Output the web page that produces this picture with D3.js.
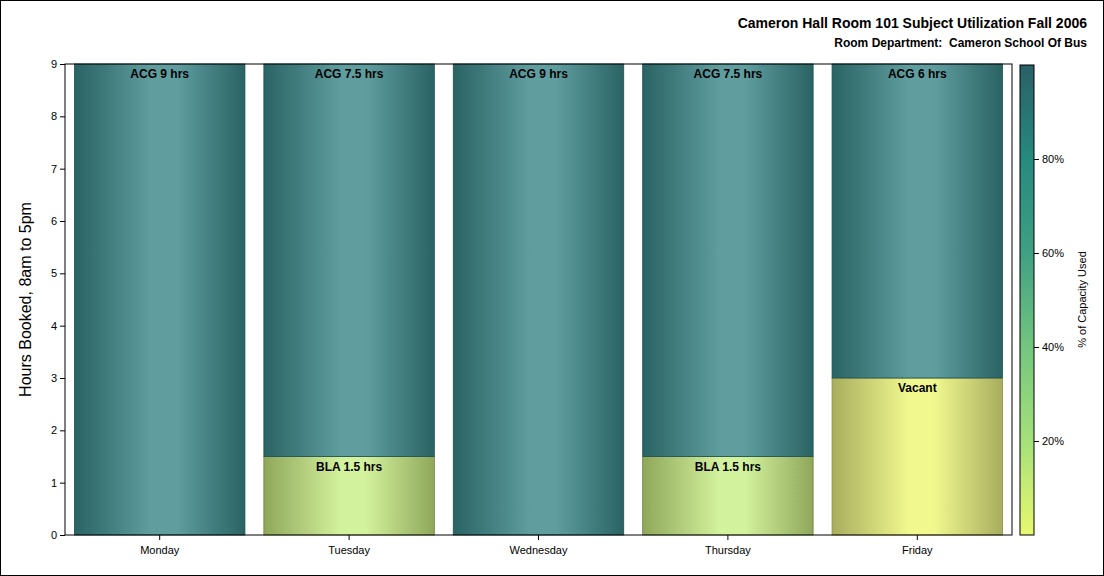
<!DOCTYPE html><html><head><meta charset="utf-8"><script src="https://cdn.jsdelivr.net/npm/d3@7"></script>
<style>body{margin:0;background:#fff}text{font-family:Arial,"Liberation Sans",sans-serif}</style></head><body>
<svg id="c" width="1104" height="576"></svg>
<script>
const days=["Monday","Tuesday","Wednesday","Thursday","Friday"];
const acgHours=[9,7.5,9,7.5,6];
const blaHours=[0,1.5,0,1.5,0];
const vacantHours=[0,0,0,0,3];
const yTicks=[0,1,2,3,4,5,6,7,8,9];
const cbTicks=[20,40,60,80];
const svg=d3.select("#c");
svg.append("rect").attr("x",0.5).attr("y",0.5).attr("width",1103).attr("height",575).attr("fill","#fff").attr("stroke","#000");
const L=65,R=1012,T=64,B=535;
const x=d3.scaleBand().domain(days).range([L,R]).paddingInner(0.1).paddingOuter(0.05);
const y=d3.scaleLinear().domain([0,9]).range([B,T]);
const defs=svg.append("defs");
function grad(id,edge,mid){const g=defs.append("linearGradient").attr("id",id);
 [[0,edge],[0.45,mid],[0.6,mid],[1,edge]].forEach(s=>g.append("stop").attr("offset",s[0]).attr("stop-color",s[1]));}
grad("gA","#2a6363","#5f9d9f");grad("gB","#8fa75a","#d3f29d");grad("gV","#a8ad5e","#f0f88e");
const cbg=defs.append("linearGradient").attr("id","cb").attr("x1",0).attr("y1",1).attr("x2",0).attr("y2",0);
[[0,"#e8f870"],[0.2,"#a6e07a"],[0.4,"#73c67f"],[0.6,"#3fa084"],[0.8,"#268a7e"],[1,"#2a6068"]].forEach(s=>cbg.append("stop").attr("offset",s[0]).attr("stop-color",s[1]));
const segs=[];
days.forEach((d,i)=>{let base=0;
 [["BLA",blaHours[i],"gB","#6f8040"],["Vacant",vacantHours[i],"gV","#8a8a40"],["ACG",acgHours[i],"gA","#1f4f4f"]].forEach(([n,v,g,s])=>{
  if(v>0){segs.push({d,n,v,g,s,y0:base,y1:base+v});base+=v;}});});
const bars=svg.append("g");
segs.forEach(s=>{
 bars.append("rect").attr("x",x(s.d)).attr("width",x.bandwidth()).attr("y",y(s.y1)).attr("height",y(s.y0)-y(s.y1))
  .attr("fill",`url(#${s.g})`).attr("stroke",s.s).attr("stroke-width",0.8);
 bars.append("text").attr("x",x(s.d)+x.bandwidth()/2).attr("y",y(s.y1)+14).attr("text-anchor","middle")
  .attr("font-size",12).attr("font-weight","bold").text(s.n==="Vacant"?"Vacant":`${s.n} ${s.v} hrs`);
});
svg.append("rect").attr("x",L).attr("y",T).attr("width",R-L).attr("height",B-T).attr("fill","none").attr("stroke","#000");
const ya=svg.append("g").attr("transform",`translate(${L},0)`).call(d3.axisLeft(y).tickValues(yTicks).tickSize(5).tickSizeOuter(0));
ya.select(".domain").remove();ya.selectAll("text").attr("font-size",11).attr("font-family","Arial");
const xa=svg.append("g").attr("transform",`translate(0,${B})`).call(d3.axisBottom(x).tickSize(5).tickSizeOuter(0));
xa.select(".domain").remove();xa.selectAll("text").attr("font-size",11).attr("font-family","Arial").attr("dy","1em");
svg.append("text").attr("transform",`translate(31,${(T+B)/2}) rotate(-90)`).attr("text-anchor","middle").attr("font-size",16).text("Hours Booked, 8am to 5pm");
const cy=d3.scaleLinear().domain([0,100]).range([B,T+1]);
svg.append("rect").attr("x",1020).attr("y",T+1).attr("width",14).attr("height",B-T-1).attr("fill","url(#cb)").attr("stroke","#000");
const ca=svg.append("g").attr("transform","translate(1034,0)").call(d3.axisRight(cy).tickValues(cbTicks).tickFormat(d=>d+"%").tickSize(5));
ca.select(".domain").remove();ca.selectAll("text").attr("font-size",11).attr("font-family","Arial");
svg.append("text").attr("transform",`translate(1086,${(T+B)/2}) rotate(-90)`).attr("text-anchor","middle").attr("font-size",11).text("% of Capacity Used");
svg.append("text").attr("x",1087).attr("y",28).attr("text-anchor","end").attr("font-size",14).attr("font-weight","bold").text("Cameron Hall Room 101 Subject Utilization Fall 2006");
svg.append("text").attr("x",1087).attr("y",47).attr("text-anchor","end").attr("font-size",12).attr("font-weight","bold").attr("xml:space","preserve").text("Room Department:  Cameron School Of Bus");
</script></body></html>
